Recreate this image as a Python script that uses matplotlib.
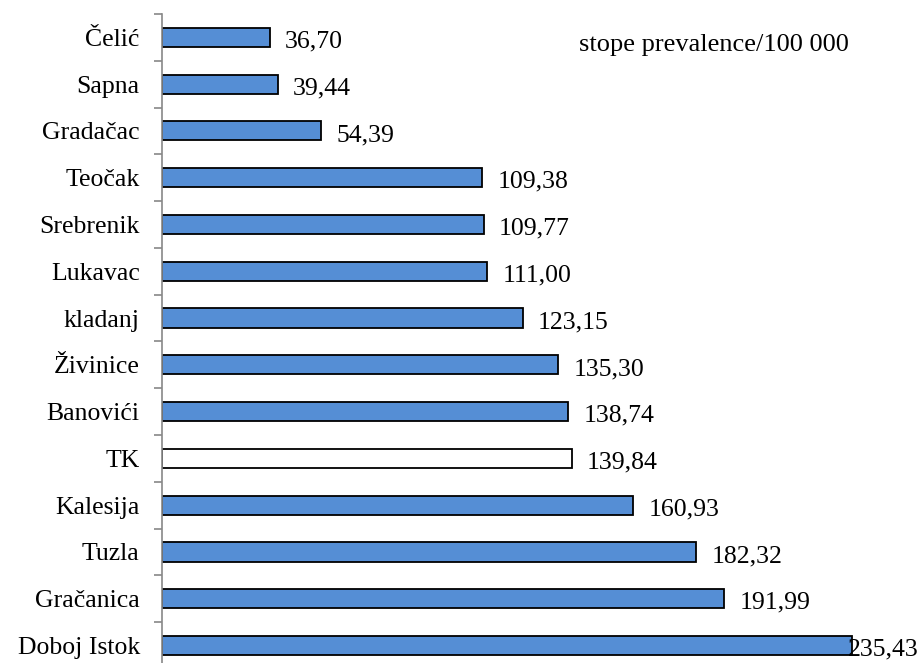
import numpy as np
import matplotlib.pyplot as plt

plt.rcParams['font.family'] = ['Liberation Serif', 'DejaVu Serif']

places = ['Čelić', 'Sapna', 'Gradačac', 'Teočak', 'Srebrenik', 'Lukavac', 'kladanj',
          'Živinice', 'Banovići', 'TK', 'Kalesija', 'Tuzla', 'Gračanica', 'Doboj Istok']
rates = [36.70, 39.44, 54.39, 109.38, 109.77, 111.00, 123.15,
         135.30, 138.74, 139.84, 160.93, 182.32, 191.99, 235.43]
labels = ['36,70', '39,44', '54,39', '109,38', '109,77', '111,00', '123,15',
          '135,30', '138,74', '139,84', '160,93', '182,32', '191,99', '235,43']

fig = plt.figure(figsize=(9.23, 6.63), dpi=100)
ax = fig.add_axes([0.1755, -0.009, 0.7935, 0.988])

y = np.arange(len(places))
colors = ['white' if p == 'TK' else '#558ED5' for p in places]
ax.barh(y, rates, height=0.41, color=colors, edgecolor='black', linewidth=1.3)

fs = 18.5
for i, (v, t) in enumerate(zip(rates, labels)):
    dx = -3 if i == len(rates) - 1 else 11
    ax.annotate(t, (v, i), xytext=(dx, -3), textcoords='offset points',
                va='center', ha='left', fontsize=fs)

ax.text(0.570, 0.952, 'stope prevalence/100 000', transform=ax.transAxes,
        fontsize=19, va='center', ha='left')

ax.set_xlim(0, 250)
ax.set_ylim(len(places) - 0.5, -0.5)
ax.set_yticks(y)
ax.set_yticklabels(places, fontsize=fs)
ax.set_yticks(np.arange(-0.5, len(places), 1), minor=True)
ax.tick_params(axis='y', which='major', length=0, pad=16)
ax.tick_params(axis='y', which='minor', length=6, width=1.2, color='#888888')
ax.set_xticks([])
for s in ['top', 'right', 'bottom']:
    ax.spines[s].set_visible(False)
ax.spines['left'].set_color('#888888')
ax.spines['left'].set_linewidth(1.2)

fig.savefig('out.png', dpi=100)
